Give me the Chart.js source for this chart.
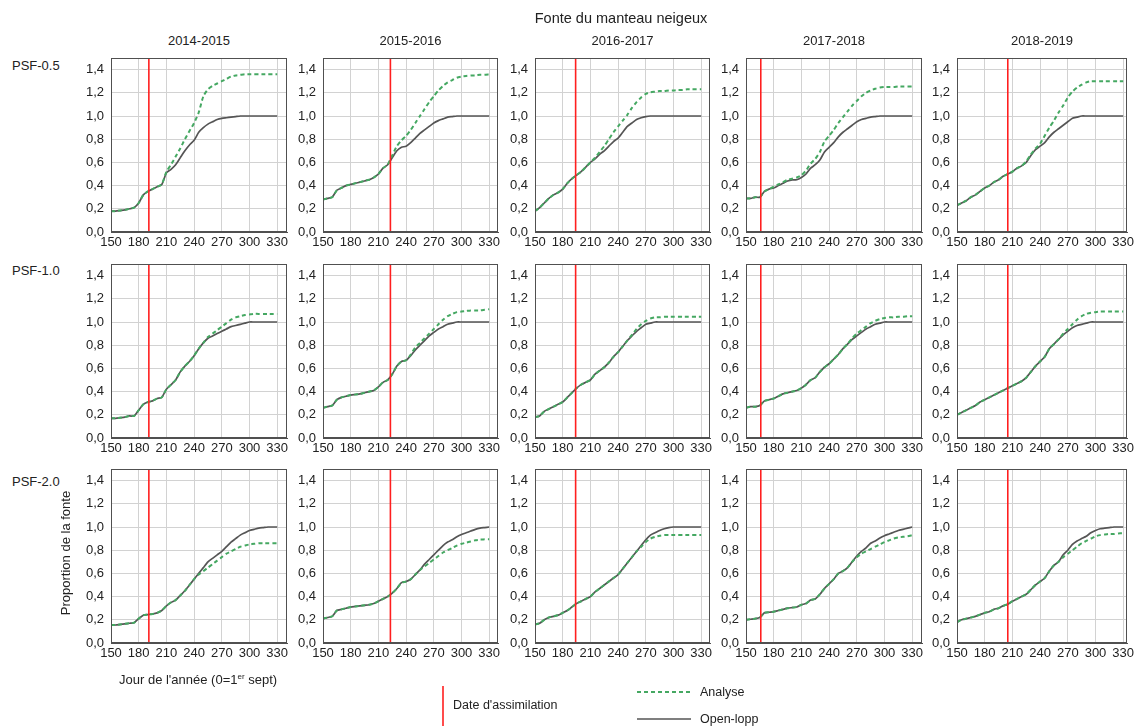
<!DOCTYPE html>
<html><head><meta charset="utf-8">
<script src="https://cdn.jsdelivr.net/npm/chart.js@4.4.1/dist/chart.umd.min.js"></script>
<style>
body{margin:0;background:#fff;width:1137px;height:726px;position:relative;overflow:hidden;font-family:'Liberation Sans',Arial,sans-serif;color:#222;}
.t{position:absolute;white-space:nowrap;font-size:13px;line-height:1;}
.c{transform:translate(-50%,-50%);}
.l{transform:translateY(-50%);}
canvas{position:absolute;}
svg{position:absolute;left:0;top:0;}
sup{font-size:8px;vertical-align:5px;line-height:0;}
</style></head><body>
<script>
// ---------- data ----------
const days = [150,155,160,165,170,175,180,185,190,195,200,205,210,215,220,225,230,235,240,245,250,255,260,265,270,275,280,285,290,295,300,305,310,315,320,325,330];
const xTicks = [150,180,210,240,270,300,330];
const yTicks = [0,0.2,0.4,0.6,0.8,1.0,1.2,1.4];
const seasons = ['2014-2015','2015-2016','2016-2017','2017-2018','2018-2019'];
const rowLabels = ['PSF-0.5','PSF-1.0','PSF-2.0'];
const assimDates = [191,223,194,166,205];

// PSF-0.5
const open05_1415 = [0.18,0.18,0.185,0.19,0.20,0.21,0.25,0.32,0.35,0.37,0.39,0.41,0.51,0.54,0.58,0.64,0.70,0.75,0.79,0.86,0.90,0.93,0.95,0.97,0.98,0.985,0.99,0.995,1,1,1,1,1,1,1,1,1];
const anal05_1415 = [0.18,0.18,0.185,0.19,0.20,0.21,0.25,0.32,0.35,0.37,0.39,0.41,0.52,0.58,0.65,0.72,0.80,0.87,0.94,1.03,1.17,1.23,1.26,1.28,1.30,1.32,1.34,1.35,1.355,1.36,1.36,1.36,1.36,1.36,1.36,1.36,1.36];
const open05_1516 = [0.28,0.29,0.30,0.36,0.38,0.40,0.41,0.42,0.43,0.44,0.45,0.47,0.50,0.55,0.58,0.64,0.70,0.73,0.74,0.77,0.81,0.85,0.88,0.91,0.94,0.96,0.975,0.99,0.995,1,1,1,1,1,1,1,1];
const anal05_1516 = [0.28,0.29,0.30,0.36,0.38,0.40,0.41,0.42,0.43,0.44,0.45,0.47,0.50,0.55,0.58,0.66,0.74,0.79,0.83,0.88,0.94,1.00,1.06,1.12,1.17,1.22,1.26,1.29,1.31,1.33,1.34,1.345,1.35,1.35,1.355,1.355,1.36];
const open05_1617 = [0.18,0.21,0.25,0.29,0.32,0.34,0.37,0.42,0.46,0.49,0.52,0.56,0.60,0.63,0.67,0.70,0.74,0.78,0.81,0.86,0.91,0.94,0.97,0.985,0.995,1,1,1,1,1,1,1,1,1,1,1,1];
const anal05_1617 = [0.18,0.21,0.25,0.29,0.32,0.34,0.37,0.42,0.46,0.49,0.52,0.56,0.60,0.64,0.69,0.74,0.80,0.86,0.91,0.96,1.01,1.07,1.12,1.16,1.19,1.205,1.21,1.215,1.215,1.22,1.22,1.225,1.225,1.23,1.23,1.23,1.23];
const open05_1718 = [0.29,0.29,0.30,0.30,0.35,0.37,0.38,0.40,0.42,0.44,0.45,0.45,0.47,0.50,0.55,0.58,0.62,0.69,0.73,0.77,0.82,0.86,0.89,0.92,0.95,0.97,0.98,0.99,0.995,1,1,1,1,1,1,1,1];
const anal05_1718 = [0.29,0.29,0.30,0.30,0.35,0.37,0.39,0.41,0.43,0.45,0.46,0.47,0.49,0.53,0.59,0.63,0.69,0.78,0.83,0.88,0.94,0.99,1.04,1.09,1.13,1.17,1.20,1.22,1.235,1.245,1.25,1.25,1.25,1.255,1.255,1.255,1.255];
const open05_1819 = [0.23,0.25,0.27,0.30,0.32,0.35,0.38,0.40,0.43,0.45,0.48,0.50,0.52,0.55,0.57,0.60,0.66,0.71,0.74,0.77,0.82,0.86,0.89,0.92,0.95,0.98,0.99,1,1,1,1,1,1,1,1,1,1];
const anal05_1819 = [0.23,0.25,0.27,0.30,0.32,0.35,0.38,0.40,0.43,0.45,0.48,0.50,0.52,0.55,0.57,0.61,0.67,0.72,0.76,0.83,0.90,0.96,1.03,1.09,1.16,1.21,1.245,1.27,1.29,1.30,1.30,1.30,1.30,1.30,1.30,1.30,1.30];
// PSF-1.0
const open10_1415 = [0.17,0.17,0.175,0.18,0.19,0.19,0.24,0.29,0.31,0.32,0.34,0.35,0.42,0.46,0.50,0.57,0.62,0.66,0.71,0.77,0.82,0.86,0.88,0.90,0.92,0.94,0.96,0.97,0.98,0.99,1,1,1,1,1,1,1];
const anal10_1415 = [0.17,0.17,0.175,0.18,0.19,0.19,0.24,0.29,0.31,0.32,0.34,0.35,0.42,0.46,0.50,0.57,0.62,0.66,0.71,0.77,0.82,0.87,0.90,0.93,0.96,0.99,1.02,1.04,1.05,1.06,1.065,1.07,1.07,1.07,1.07,1.07,1.07];
const open10_1516 = [0.26,0.27,0.28,0.33,0.35,0.36,0.37,0.375,0.38,0.39,0.40,0.41,0.44,0.48,0.50,0.55,0.62,0.66,0.67,0.71,0.76,0.80,0.84,0.88,0.91,0.94,0.96,0.98,0.99,1,1,1,1,1,1,1,1];
const anal10_1516 = [0.26,0.27,0.28,0.33,0.35,0.36,0.37,0.375,0.38,0.39,0.40,0.41,0.44,0.48,0.50,0.55,0.62,0.66,0.67,0.72,0.78,0.82,0.86,0.90,0.94,0.98,1.02,1.05,1.07,1.085,1.09,1.095,1.10,1.10,1.10,1.105,1.11];
const open10_1617 = [0.18,0.19,0.23,0.25,0.27,0.29,0.31,0.35,0.39,0.43,0.46,0.48,0.50,0.55,0.58,0.61,0.65,0.70,0.74,0.79,0.84,0.88,0.92,0.95,0.98,0.99,1,1,1,1,1,1,1,1,1,1,1];
const anal10_1617 = [0.18,0.19,0.23,0.25,0.27,0.29,0.31,0.35,0.39,0.43,0.46,0.48,0.50,0.55,0.58,0.61,0.65,0.70,0.74,0.79,0.84,0.89,0.94,0.98,1.01,1.03,1.04,1.04,1.045,1.045,1.045,1.045,1.045,1.045,1.045,1.045,1.045];
const open10_1718 = [0.26,0.27,0.27,0.28,0.32,0.33,0.34,0.36,0.38,0.39,0.40,0.41,0.43,0.46,0.50,0.52,0.57,0.61,0.64,0.68,0.72,0.77,0.81,0.85,0.88,0.91,0.94,0.96,0.98,0.99,1,1,1,1,1,1,1];
const anal10_1718 = [0.26,0.27,0.27,0.28,0.32,0.33,0.34,0.36,0.38,0.39,0.40,0.41,0.43,0.46,0.50,0.52,0.57,0.61,0.64,0.68,0.72,0.77,0.81,0.86,0.90,0.93,0.96,0.99,1.01,1.025,1.035,1.04,1.04,1.045,1.045,1.05,1.05];
const open10_1819 = [0.20,0.22,0.24,0.26,0.28,0.31,0.33,0.35,0.37,0.39,0.41,0.43,0.45,0.47,0.49,0.52,0.57,0.62,0.66,0.70,0.77,0.81,0.85,0.89,0.92,0.95,0.97,0.98,0.99,1,1,1,1,1,1,1,1];
const anal10_1819 = [0.20,0.22,0.24,0.26,0.28,0.31,0.33,0.35,0.37,0.39,0.41,0.43,0.45,0.47,0.49,0.52,0.57,0.62,0.66,0.70,0.77,0.81,0.85,0.90,0.94,0.98,1.02,1.05,1.07,1.08,1.085,1.09,1.09,1.09,1.09,1.09,1.09];
// PSF-2.0
const open20_1415 = [0.155,0.155,0.16,0.165,0.17,0.175,0.21,0.24,0.245,0.25,0.26,0.28,0.32,0.35,0.37,0.41,0.45,0.50,0.55,0.60,0.65,0.70,0.73,0.76,0.79,0.83,0.87,0.90,0.93,0.95,0.97,0.98,0.99,0.995,1,1,1];
const anal20_1415 = [0.155,0.155,0.16,0.165,0.17,0.175,0.21,0.24,0.245,0.25,0.26,0.28,0.32,0.35,0.37,0.41,0.45,0.50,0.55,0.59,0.62,0.65,0.68,0.71,0.74,0.77,0.79,0.81,0.83,0.84,0.85,0.855,0.86,0.86,0.86,0.86,0.86];
const open20_1516 = [0.21,0.22,0.23,0.28,0.29,0.30,0.31,0.315,0.32,0.325,0.33,0.34,0.36,0.38,0.40,0.43,0.47,0.52,0.53,0.55,0.59,0.63,0.68,0.72,0.76,0.80,0.84,0.87,0.89,0.915,0.935,0.95,0.965,0.98,0.99,0.995,1.0];
const anal20_1516 = [0.21,0.22,0.23,0.28,0.29,0.30,0.31,0.315,0.32,0.325,0.33,0.34,0.36,0.38,0.40,0.43,0.47,0.52,0.53,0.55,0.59,0.63,0.66,0.69,0.72,0.75,0.78,0.80,0.82,0.84,0.855,0.865,0.875,0.885,0.89,0.895,0.895];
const open20_1617 = [0.16,0.17,0.20,0.22,0.23,0.24,0.26,0.28,0.31,0.34,0.36,0.38,0.40,0.44,0.47,0.50,0.53,0.56,0.59,0.64,0.69,0.74,0.79,0.84,0.89,0.93,0.95,0.97,0.985,0.995,1,1,1,1,1,1,1];
const anal20_1617 = [0.16,0.17,0.20,0.22,0.23,0.24,0.26,0.28,0.31,0.34,0.36,0.38,0.40,0.44,0.47,0.50,0.53,0.56,0.59,0.64,0.69,0.74,0.79,0.83,0.87,0.90,0.915,0.925,0.93,0.93,0.93,0.93,0.93,0.93,0.93,0.93,0.93];
const open20_1718 = [0.20,0.205,0.21,0.22,0.26,0.265,0.27,0.28,0.29,0.30,0.305,0.31,0.33,0.34,0.37,0.38,0.42,0.47,0.51,0.55,0.60,0.62,0.65,0.70,0.75,0.79,0.82,0.86,0.88,0.905,0.925,0.94,0.955,0.97,0.98,0.99,1.0];
const anal20_1718 = [0.20,0.205,0.21,0.22,0.26,0.265,0.27,0.28,0.29,0.30,0.305,0.31,0.33,0.34,0.37,0.38,0.42,0.47,0.51,0.55,0.60,0.62,0.65,0.70,0.74,0.77,0.79,0.81,0.83,0.85,0.87,0.885,0.90,0.91,0.915,0.92,0.93];
const open20_1819 = [0.18,0.20,0.21,0.22,0.23,0.245,0.26,0.27,0.29,0.30,0.32,0.335,0.36,0.38,0.40,0.42,0.46,0.50,0.53,0.56,0.62,0.67,0.70,0.76,0.80,0.85,0.88,0.90,0.92,0.95,0.97,0.985,0.99,0.995,1,1,1];
const anal20_1819 = [0.18,0.20,0.21,0.22,0.23,0.245,0.26,0.27,0.29,0.30,0.32,0.335,0.36,0.38,0.40,0.42,0.46,0.50,0.53,0.56,0.62,0.67,0.70,0.74,0.77,0.80,0.83,0.86,0.88,0.90,0.92,0.93,0.935,0.94,0.94,0.945,0.945];

const openRows = [
  [open05_1415,open05_1516,open05_1617,open05_1718,open05_1819],
  [open10_1415,open10_1516,open10_1617,open10_1718,open10_1819],
  [open20_1415,open20_1516,open20_1617,open20_1718,open20_1819]
];
const analRows = [
  [anal05_1415,anal05_1516,anal05_1617,anal05_1718,anal05_1819],
  [anal10_1415,anal10_1516,anal10_1617,anal10_1718,anal10_1819],
  [anal20_1415,anal20_1516,anal20_1617,anal20_1718,anal20_1819]
];

// ---------- layout ----------
const colLeft = [111,323,535,746,957];
const colWidth = [176,175,175,176,170];
const rowTop = [58,264,469];
const plotH = 174;
const pxPerDay = 166.2/180;
const FONT = "'Liberation Sans', Arial, sans-serif";

function addText(html, x, y, cls, extra) {
  const d = document.createElement('div');
  d.className = 't ' + cls;
  d.innerHTML = html;
  d.style.left = x + 'px'; d.style.top = y + 'px';
  if (extra) Object.assign(d.style, extra);
  document.body.appendChild(d);
  return d;
}

const frame = {
  id:'frame',
  afterDraw(chart){
    const a = chart.chartArea, ctx = chart.ctx;
    ctx.save(); ctx.strokeStyle = '#505050'; ctx.lineWidth = 1;
    ctx.strokeRect(Math.round(a.left)+0.5, Math.round(a.top)+0.5, Math.round(a.right-a.left)-1, Math.round(a.bottom-a.top)-1);
    ctx.restore();
  }
};

function makePanel(r, c) {
  const padL = 46, padT = 10, padR = 14, padB = 22;
  const w = colWidth[c];
  const cv = document.createElement('canvas');
  cv.width = w + padL + padR; cv.height = plotH + padT + padB;
  cv.style.left = (colLeft[c] - padL) + 'px';
  cv.style.top = (rowTop[r] - padT) + 'px';
  document.body.appendChild(cv);
  const xMax = 150 + w / pxPerDay;
  const openD = days.map((x,i)=>({x, y: openRows[r][c][i]}));
  const analD = days.map((x,i)=>({x, y: analRows[r][c][i]}));
  const dateD = [{x: assimDates[c], y: 0}, {x: assimDates[c], y: 1.5}];
  new Chart(cv, {
    type:'line',
    data:{datasets:[
      {label:"Date d'assimilation", data:dateD, borderColor:'#ff1f1f', borderWidth:1.6, pointRadius:0, order:0},
      {label:'Analyse', data:analD, borderColor:'#45a862', borderWidth:2, borderDash:[4,3], pointRadius:0, order:1, tension:0.2},
      {label:'Open-lopp', data:openD, borderColor:'#555555', borderWidth:1.7, pointRadius:0, order:2, tension:0.2}
    ]},
    options:{
      responsive:false, animation:false, devicePixelRatio:1,
      layout:{padding:{left:0, top:padT, right:padR, bottom:0}},
      plugins:{legend:{display:false}, tooltip:{enabled:false}},
      scales:{
        x:{type:'linear', min:150, max:xMax,
           afterBuildTicks:s=>{s.ticks = xTicks.map(v=>({value:v}));},
           afterFit:s=>{s.height = padB; s.paddingLeft = 0; s.paddingRight = 0; s.paddingTop = 0; s.paddingBottom = 0;},
           grid:{color:'#d2d2d2', drawTicks:false},
           border:{color:'#505050'},
           ticks:{padding:3, color:'#222', font:{family:FONT, size:13}, maxRotation:0, autoSkip:false, callback:v=>String(v)}},
        y:{min:0, max:1.5,
           afterBuildTicks:s=>{s.ticks = yTicks.map(v=>({value:v}));},
           afterFit:s=>{s.width = padL; s.paddingTop = 0; s.paddingBottom = 0; s.paddingLeft = 0; s.paddingRight = 0;},
           grid:{color:'#d2d2d2', drawTicks:false},
           border:{color:'#505050'},
           ticks:{padding:7, color:'#222', font:{family:FONT, size:13}, callback:v=>v.toFixed(1).replace('.',',')}}
      }
    },
    plugins:[frame]
  });
}

for (let r=0;r<3;r++) for (let c=0;c<5;c++) makePanel(r,c);

// ---------- texts ----------
addText('Fonte du manteau neigeux', 621, 18, 'c', {fontSize:'14.5px'});
seasons.forEach((s,c)=>addText(s, colLeft[c]+colWidth[c]/2, 40, 'c'));
const rowLabelY = [65, 270, 481];
rowLabels.forEach((s,r)=>addText(s, 12, rowLabelY[r], 'l'));
addText('Proportion de la fonte', 65, 553, 'c', {transform:'translate(-50%,-50%) rotate(-90deg)'});
addText("Jour de l'année (0=1<sup>er</sup> sept)", 119, 679, 'l');

// legend
const ns = 'http://www.w3.org/2000/svg';
const svg = document.createElementNS(ns,'svg');
svg.setAttribute('width','1137'); svg.setAttribute('height','726');
function ln(x1,y1,x2,y2,col,wd,dash){
  const l = document.createElementNS(ns,'line');
  l.setAttribute('x1',x1); l.setAttribute('y1',y1); l.setAttribute('x2',x2); l.setAttribute('y2',y2);
  l.setAttribute('stroke',col); l.setAttribute('stroke-width',wd);
  if (dash) l.setAttribute('stroke-dasharray',dash);
  svg.appendChild(l);
}
ln(443,686,443,726,'#ff1f1f',1.6);
ln(637,692,691,692,'#45a862',2,'4 3');
ln(637,719,691,719,'#555555',1.7);
document.body.appendChild(svg);
addText("Date d'assimilation", 453, 705, 'l', {fontSize:'12.5px'});
addText('Analyse', 700, 692, 'l', {fontSize:'12.5px'});
addText('Open-lopp', 700, 719, 'l', {fontSize:'12.5px'});
</script>
</body></html>
